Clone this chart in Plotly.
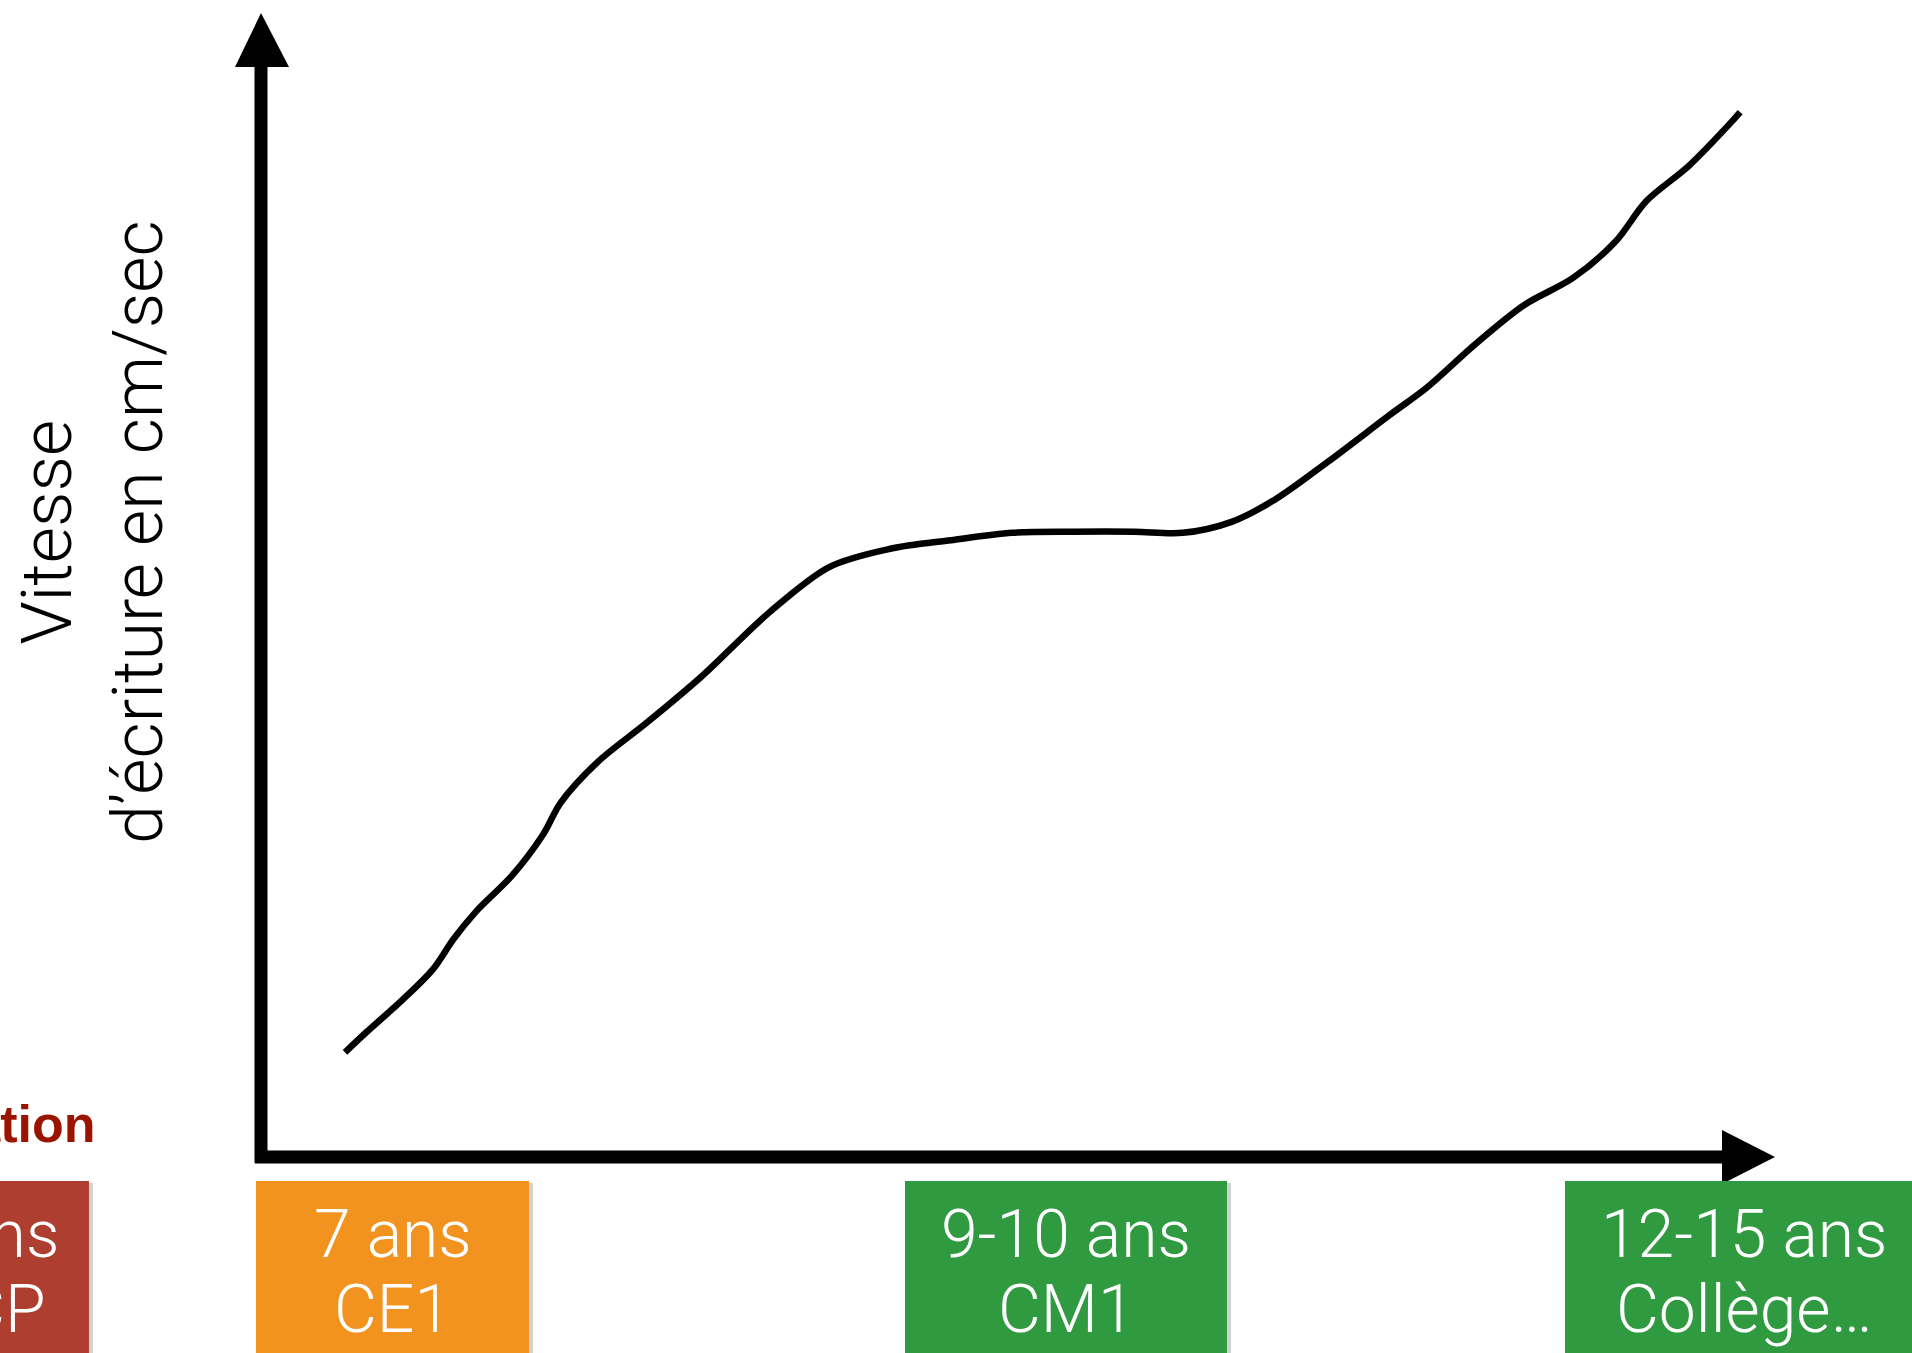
import plotly.graph_objects as go

# ---- data (arbitrary units: x = progression in age, y = writing speed) ----
curve_x = [5.55, 6.92, 9.34, 11.35, 12.72, 14.17, 16.59, 18.60, 19.81, 22.23, 25.45,
           29.08, 33.50, 37.53, 41.56, 45.58, 49.61, 53.64, 57.66, 60.89, 64.11,
           66.93, 70.55, 74.58, 76.99, 80.22, 83.44, 86.66, 89.48, 91.49, 94.31, 97.13, 97.70]
curve_y = [9.15, 10.86, 13.73, 16.40, 19.06, 21.41, 24.61, 28.12, 31.00, 34.52, 37.93,
           41.98, 47.52, 51.57, 53.17, 53.92, 54.56, 54.66, 54.66, 54.56, 55.52,
           57.43, 60.85, 64.89, 67.24, 71.07, 74.48, 76.84, 80.04, 83.55, 86.64, 90.48, 91.33]

box_line1 = ["5-6 ans", "7 ans", "9-10 ans", "12-15 ans"]
box_line2 = ["GS-CP", "CE1", "CM1", "Collège…"]
box_colors = ["#AE3F30", "#F2921F", "#2F9A3F", "#2F9A3F"]

y_title = "Vitesse<br>d’écriture en cm/sec"
side_label = "Automatisation"

# ---- layout helpers (page pixels -> paper fractions) ----
W, H = 1912, 1353
def fx(px):
    return px / W
def fy(py):
    return 1 - py / H

box_left = [-184, 256, 905, 1565]
box_right = [89, 529, 1227, 1923]
box_top, box_bottom = 1181, 1353

fig = go.Figure()
fig.add_trace(go.Scatter(x=curve_x, y=curve_y, mode="lines",
                         line=dict(color="black", width=6.5, shape="spline", smoothing=0.9),
                         hoverinfo="skip", showlegend=False))

shapes = []
# axes
shapes.append(dict(type="line", xref="paper", yref="paper",
                   x0=fx(261), x1=fx(261), y0=fy(1163), y1=fy(64),
                   line=dict(color="black", width=13)))
shapes.append(dict(type="path", xref="paper", yref="paper",
                   path=f"M {fx(261)},{fy(13)} L {fx(235)},{fy(67)} L {fx(289)},{fy(67)} Z",
                   fillcolor="black", line=dict(width=0)))
shapes.append(dict(type="line", xref="paper", yref="paper",
                   x0=fx(255), x1=fx(1724), y0=fy(1157), y1=fy(1157),
                   line=dict(color="black", width=13)))
shapes.append(dict(type="path", xref="paper", yref="paper",
                   path=f"M {fx(1775)},{fy(1157)} L {fx(1722)},{fy(1130)} L {fx(1722)},{fy(1184)} Z",
                   fillcolor="black", line=dict(width=0)))

annotations = []
for i in range(len(box_line1)):
    l, r = box_left[i], box_right[i]
    # soft shadow
    shapes.append(dict(type="rect", xref="paper", yref="paper",
                       x0=fx(l + 3), x1=fx(r + 4), y0=fy(box_bottom), y1=fy(box_top + 2),
                       fillcolor="rgba(0,0,0,0.18)", line=dict(width=0)))
    shapes.append(dict(type="rect", xref="paper", yref="paper",
                       x0=fx(l), x1=fx(r), y0=fy(box_bottom), y1=fy(box_top),
                       fillcolor=box_colors[i], line=dict(width=0)))
    cx = fx((l + r) / 2)
    for txt, yy in ((box_line1[i], 1234), (box_line2[i], 1309)):
        annotations.append(dict(xref="paper", yref="paper", x=cx, y=fy(yy),
                                text=txt, showarrow=False, xanchor="center", yanchor="middle",
                                font=dict(family="Roboto", size=66, color="white", weight=300)))

annotations.append(dict(xref="paper", yref="paper", x=fx(97), y=fy(1124),
                        text=side_label, showarrow=False, xanchor="right", yanchor="middle",
                        font=dict(family="Liberation Sans", size=52, color="#9B1400", weight="bold")))
annotations.append(dict(xref="paper", yref="paper", x=fx(92), y=fy(532),
                        text=y_title, showarrow=False, textangle=-90,
                        xanchor="center", yanchor="middle",
                        font=dict(family="Roboto", size=70, color="black", weight=300)))

fig.update_layout(
    width=W, height=H, margin=dict(l=0, r=0, t=0, b=0),
    paper_bgcolor="white", plot_bgcolor="white",
    xaxis=dict(domain=[fx(261), fx(1775)], range=[0, 100], visible=False, fixedrange=True),
    yaxis=dict(domain=[fy(1157), fy(13)], range=[0, 100], visible=False, fixedrange=True),
    shapes=shapes, annotations=annotations, showlegend=False,
)

fig.write_html("out.html", config={"displayModeBar": False},
               post_script="document.body.style.margin='0';document.body.style.overflow='hidden';")
